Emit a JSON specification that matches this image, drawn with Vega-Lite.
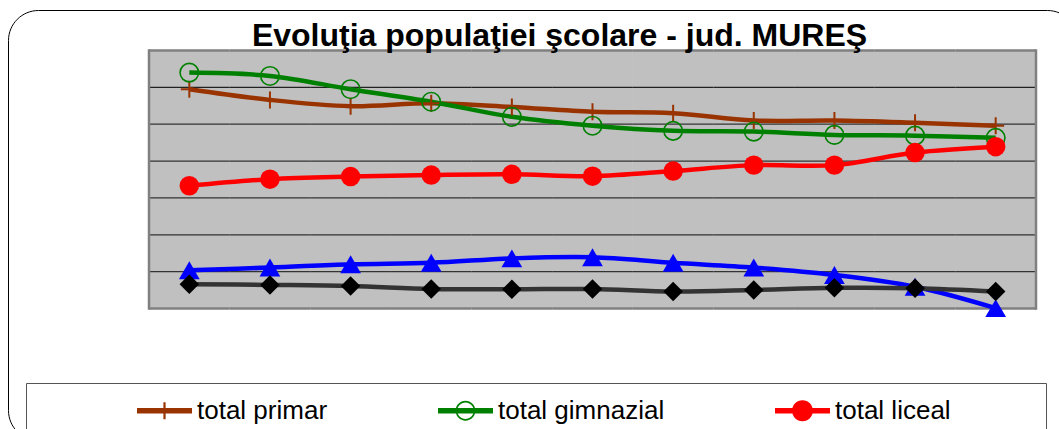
{
  "$schema": "https://vega.github.io/schema/vega-lite/v6.json",
  "width": 1069,
  "height": 430,
  "autosize": {"type": "none"},
  "padding": {"left": 8, "top": 10, "right": 0, "bottom": 0},
  "background": "white",
  "view": {"stroke": "black", "strokeWidth": 1, "cornerRadius": 30, "fill": "white"},
  "title": {
    "text": "Evoluţia populaţiei şcolare - jud. MUREŞ",
    "font": "Liberation Sans",
    "fontSize": 32,
    "fontWeight": "bold",
    "color": "black",
    "anchor": "middle",
    "frame": "group",
    "dx": 17,
    "dy": 33,
    "offset": -35,
    "baseline": "alphabetic"
  },
  "data": {
    "values": [
      {"an": "2000", "serie": "total primar", "v": 5.95},
      {"an": "2001", "serie": "total primar", "v": 5.66},
      {"an": "2002", "serie": "total primar", "v": 5.49},
      {"an": "2003", "serie": "total primar", "v": 5.57},
      {"an": "2004", "serie": "total primar", "v": 5.47},
      {"an": "2005", "serie": "total primar", "v": 5.34},
      {"an": "2006", "serie": "total primar", "v": 5.30},
      {"an": "2007", "serie": "total primar", "v": 5.10},
      {"an": "2008", "serie": "total primar", "v": 5.10},
      {"an": "2009", "serie": "total primar", "v": 5.04},
      {"an": "2010", "serie": "total primar", "v": 4.96},
      {"an": "2000", "serie": "total gimnazial", "v": 6.40},
      {"an": "2001", "serie": "total gimnazial", "v": 6.31},
      {"an": "2002", "serie": "total gimnazial", "v": 5.95},
      {"an": "2003", "serie": "total gimnazial", "v": 5.61},
      {"an": "2004", "serie": "total gimnazial", "v": 5.20},
      {"an": "2005", "serie": "total gimnazial", "v": 4.96},
      {"an": "2006", "serie": "total gimnazial", "v": 4.82},
      {"an": "2007", "serie": "total gimnazial", "v": 4.80},
      {"an": "2008", "serie": "total gimnazial", "v": 4.71},
      {"an": "2009", "serie": "total gimnazial", "v": 4.69},
      {"an": "2010", "serie": "total gimnazial", "v": 4.63},
      {"an": "2000", "serie": "total liceal", "v": 3.33},
      {"an": "2001", "serie": "total liceal", "v": 3.51},
      {"an": "2002", "serie": "total liceal", "v": 3.58},
      {"an": "2003", "serie": "total liceal", "v": 3.62},
      {"an": "2004", "serie": "total liceal", "v": 3.64},
      {"an": "2005", "serie": "total liceal", "v": 3.59},
      {"an": "2006", "serie": "total liceal", "v": 3.73},
      {"an": "2007", "serie": "total liceal", "v": 3.89},
      {"an": "2008", "serie": "total liceal", "v": 3.89},
      {"an": "2009", "serie": "total liceal", "v": 4.23},
      {"an": "2010", "serie": "total liceal", "v": 4.39},
      {"an": "2000", "serie": "total SAM", "v": 1.04},
      {"an": "2001", "serie": "total SAM", "v": 1.11},
      {"an": "2002", "serie": "total SAM", "v": 1.20},
      {"an": "2003", "serie": "total SAM", "v": 1.24},
      {"an": "2004", "serie": "total SAM", "v": 1.36},
      {"an": "2005", "serie": "total SAM", "v": 1.39},
      {"an": "2006", "serie": "total SAM", "v": 1.24},
      {"an": "2007", "serie": "total SAM", "v": 1.11},
      {"an": "2008", "serie": "total SAM", "v": 0.91},
      {"an": "2009", "serie": "total SAM", "v": 0.59},
      {"an": "2010", "serie": "total SAM", "v": 0.01},
      {"an": "2000", "serie": "total postliceal", "v": 0.66},
      {"an": "2001", "serie": "total postliceal", "v": 0.64},
      {"an": "2002", "serie": "total postliceal", "v": 0.61},
      {"an": "2003", "serie": "total postliceal", "v": 0.53},
      {"an": "2004", "serie": "total postliceal", "v": 0.52},
      {"an": "2005", "serie": "total postliceal", "v": 0.53},
      {"an": "2006", "serie": "total postliceal", "v": 0.46},
      {"an": "2007", "serie": "total postliceal", "v": 0.50},
      {"an": "2008", "serie": "total postliceal", "v": 0.56},
      {"an": "2009", "serie": "total postliceal", "v": 0.55},
      {"an": "2010", "serie": "total postliceal", "v": 0.46}
    ]
  },
  "encoding": {
    "x": {
      "field": "an",
      "type": "ordinal",
      "scale": {"type": "band", "range": [141, 1028], "paddingInner": 0, "paddingOuter": 0},
      "axis": null
    },
    "y": {
      "field": "v",
      "type": "quantitative",
      "scale": {"domain": [0, 7], "range": [298.5, 40.5], "nice": false, "zero": false},
      "axis": null
    }
  },
  "layer": [
    {
      "transform": [{"filter": "datum.serie === 'total primar'"}],
      "mark": {"type": "rect", "fill": "#C0C0C0", "stroke": "#C0C0C0", "strokeWidth": 1},
      "encoding": {"y": {"datum": 0, "type": "quantitative"}, "y2": {"datum": 7}}
    },
    {
      "transform": [{"filter": "datum.serie === 'total primar'"}],
      "mark": {"type": "rect", "fill": "transparent", "stroke": "#333333", "strokeWidth": 1.3},
      "encoding": {"y": {"datum": 1, "type": "quantitative"}, "y2": {"datum": 1}}
    },
    {
      "transform": [{"filter": "datum.serie === 'total primar'"}],
      "mark": {"type": "rect", "fill": "transparent", "stroke": "#333333", "strokeWidth": 1.3},
      "encoding": {"y": {"datum": 2, "type": "quantitative"}, "y2": {"datum": 2}}
    },
    {
      "transform": [{"filter": "datum.serie === 'total primar'"}],
      "mark": {"type": "rect", "fill": "transparent", "stroke": "#333333", "strokeWidth": 1.3},
      "encoding": {"y": {"datum": 3, "type": "quantitative"}, "y2": {"datum": 3}}
    },
    {
      "transform": [{"filter": "datum.serie === 'total primar'"}],
      "mark": {"type": "rect", "fill": "transparent", "stroke": "#333333", "strokeWidth": 1.3},
      "encoding": {"y": {"datum": 4, "type": "quantitative"}, "y2": {"datum": 4}}
    },
    {
      "transform": [{"filter": "datum.serie === 'total primar'"}],
      "mark": {"type": "rect", "fill": "transparent", "stroke": "#333333", "strokeWidth": 1.3},
      "encoding": {"y": {"datum": 5, "type": "quantitative"}, "y2": {"datum": 5}}
    },
    {
      "transform": [{"filter": "datum.serie === 'total primar'"}],
      "mark": {"type": "rect", "fill": "transparent", "stroke": "#222222", "strokeWidth": 1.2},
      "encoding": {"y": {"datum": 6, "type": "quantitative"}, "y2": {"datum": 6}}
    },
    {
      "transform": [{"filter": "datum.serie === 'total primar'"}],
      "mark": {"type": "rect", "fill": "transparent", "stroke": "#808080", "strokeWidth": 2.5},
      "encoding": {"y": {"datum": 7, "type": "quantitative"}, "y2": {"datum": 7}}
    },
    {
      "transform": [{"filter": "datum.serie === 'total primar'"}],
      "mark": {"type": "rect", "fill": "transparent", "stroke": "#808080", "strokeWidth": 2.5},
      "encoding": {"y": {"datum": 0, "type": "quantitative"}, "y2": {"datum": 0}}
    },
    {
      "transform": [{"filter": "datum.serie === 'total primar' && datum.an === '2000'"}],
      "mark": {"type": "rule", "stroke": "#808080", "strokeWidth": 2.5, "strokeCap": "square"},
      "encoding": {
        "x": {"field": "an", "type": "ordinal", "bandPosition": 0},
        "y": {"datum": 0, "type": "quantitative"},
        "y2": {"datum": 7}
      }
    },
    {
      "transform": [{"filter": "datum.serie === 'total primar' && datum.an === '2010'"}],
      "mark": {"type": "rule", "stroke": "#808080", "strokeWidth": 2.5, "strokeCap": "square"},
      "encoding": {
        "x": {"field": "an", "type": "ordinal", "bandPosition": 1},
        "y": {"datum": 0, "type": "quantitative"},
        "y2": {"datum": 7}
      }
    },
    {
      "mark": {"type": "line", "interpolate": "catmull-rom", "strokeWidth": 4.5},
      "encoding": {
        "color": {
          "field": "serie",
          "type": "nominal",
          "scale": {
            "domain": ["total primar", "total gimnazial", "total liceal", "total SAM", "total postliceal"],
            "range": ["#993300", "#008000", "#FF0000", "#0000FF", "#333333"]
          },
          "legend": {
            "orient": "none",
            "legendX": 18,
            "legendY": 373,
            "direction": "horizontal",
            "columns": 3,
            "columnPadding": 110,
            "rowPadding": 8,
            "padding": 0,
            "strokeColor": "#555555",
            "fillColor": "white",
            "title": " ",
            "titleOrient": "left",
            "titlePadding": 111,
            "titleFontSize": 1,
            "labelFont": "Liberation Sans",
            "labelFontSize": 26,
            "labelColor": "black",
            "labelOffset": 5,
            "labelLimit": 600,
            "symbolSize": 3025,
            "labelExpr": "datum.label === 'total liceal' ? 'total liceal\u2800\u2800\u2800\u2800\u2800' : datum.label",
            "encode": {
              "symbols": {
                "update": {
                  "shape": {"signal": "datum.value === 'total primar' ? 'M-1,-0.1H1V0.1H-1ZM-0.04,-0.31H0.04V0.31H-0.04Z' : datum.value === 'total gimnazial' ? 'M-1,-0.1H1V0.1H-1ZM0.36,0A0.36,0.36,0,1,1,-0.36,0A0.36,0.36,0,1,1,0.36,0ZM0.3,0A0.3,0.3,0,1,0,-0.3,0A0.3,0.3,0,1,0,0.3,0Z' : datum.value === 'total liceal' ? 'M-1,-0.1H1V0.1H-1ZM0.38,0A0.38,0.38,0,1,1,-0.38,0A0.38,0.38,0,1,1,0.38,0Z' : datum.value === 'total SAM' ? 'M-1,-0.1H1V0.1H-1ZM0,-0.33L0.37,0.3H-0.37Z' : 'M-1,-0.1H1V0.1H-1ZM0,-0.35L0.35,0L0,0.35L-0.35,0Z'"},
                  "fill": {"scale": "color", "field": "value"},
                  "stroke": {"value": "transparent"},
                  "strokeWidth": {"value": 0},
                  "opacity": {"value": 1}
                }
              }
            }
          }
        }
      }
    },
    {
      "transform": [{"filter": "datum.serie === 'total primar'"}],
      "mark": {"type": "point", "shape": "M-1,0H1M0,-1V1", "filled": false, "color": "#993300", "strokeWidth": 2, "size": 289, "opacity": 1}
    },
    {
      "transform": [{"filter": "datum.serie === 'total gimnazial'"}],
      "mark": {"type": "point", "shape": "circle", "filled": false, "color": "#008000", "strokeWidth": 1.6, "size": 342, "opacity": 1}
    },
    {
      "transform": [{"filter": "datum.serie === 'total liceal'"}],
      "mark": {"type": "point", "shape": "circle", "filled": true, "color": "#FF0000", "size": 380, "opacity": 1}
    },
    {
      "transform": [{"filter": "datum.serie === 'total SAM'"}],
      "mark": {"type": "point", "shape": "triangle-up", "filled": true, "color": "#0000FF", "size": 430, "opacity": 1}
    },
    {
      "transform": [{"filter": "datum.serie === 'total postliceal'"}],
      "mark": {"type": "point", "shape": "diamond", "filled": true, "color": "#000000", "size": 380, "opacity": 1}
    }
  ]
}
